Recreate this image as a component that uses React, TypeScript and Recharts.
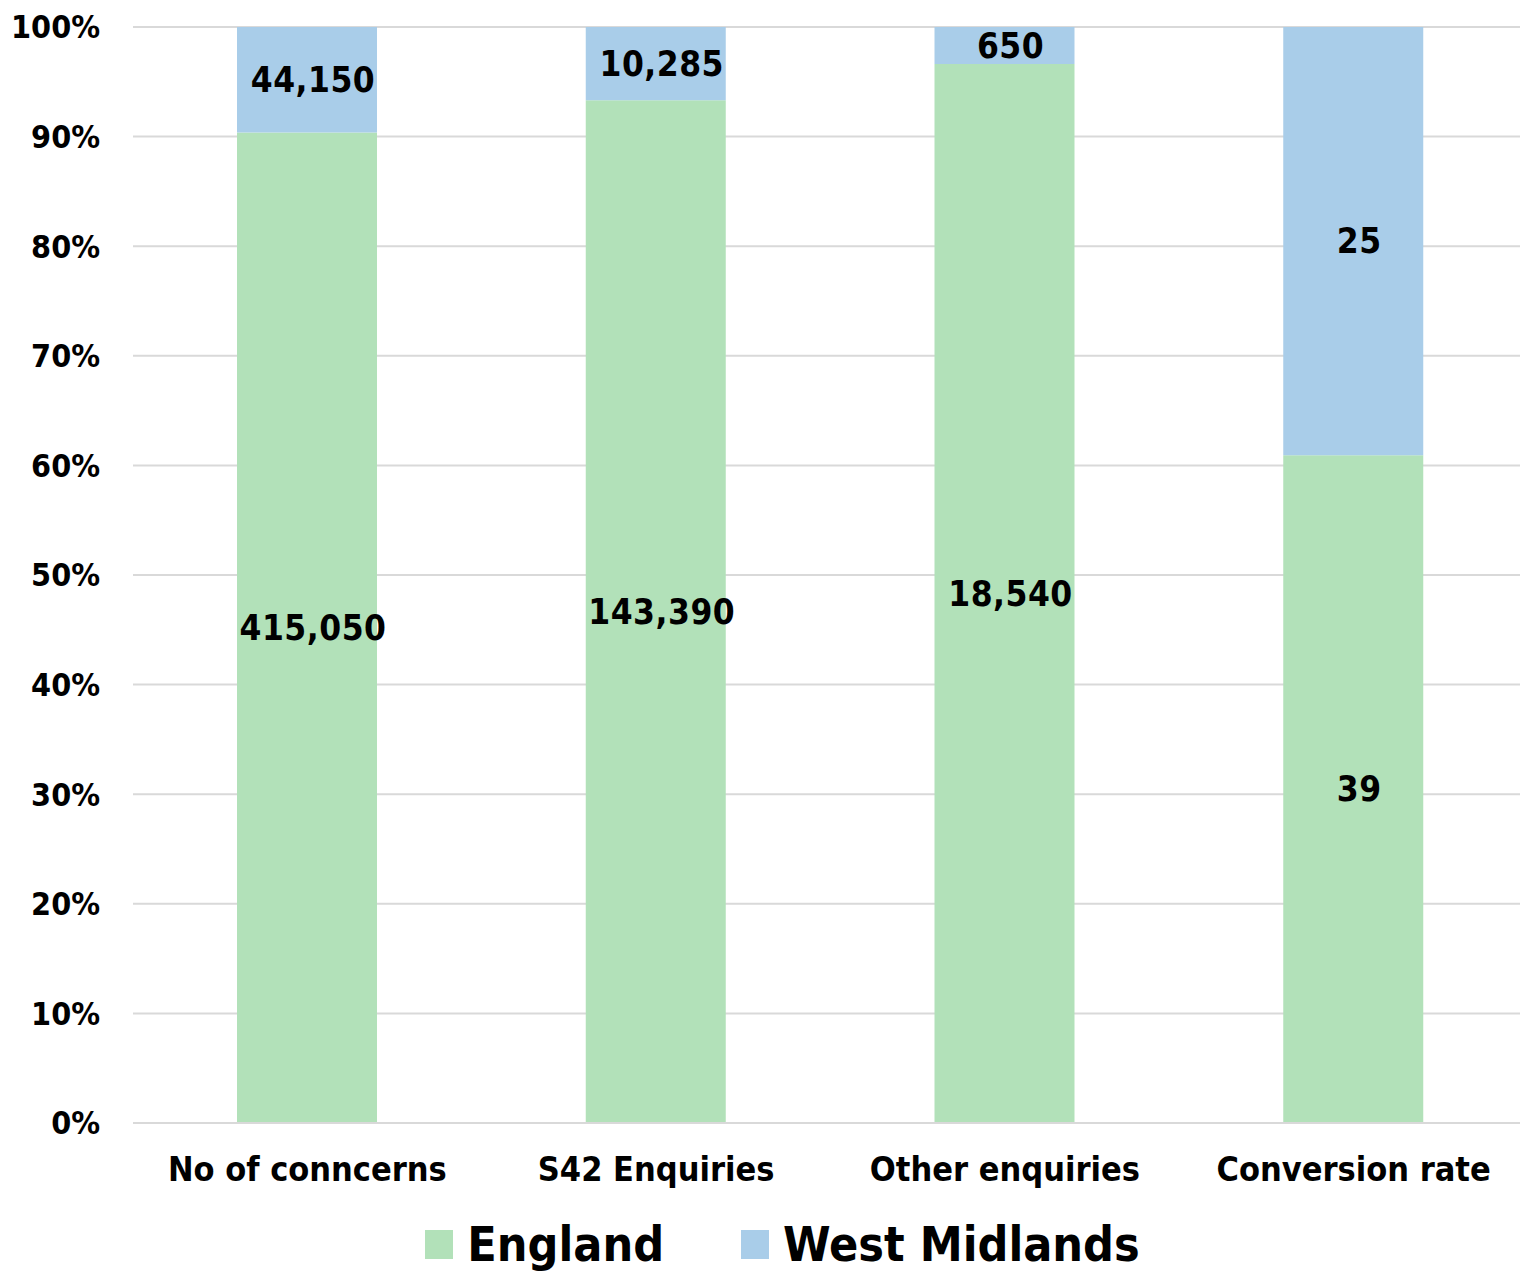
import { BarChart, Bar, XAxis, YAxis, CartesianGrid, Legend, LabelList } from 'recharts';

const categories = ['No of conncerns', 'S42 Enquiries', 'Other enquiries', 'Conversion rate'];
const england = [415050, 143390, 18540, 39];
const westMidlands = [44150, 10285, 650, 25];
const yTicks = [0, 0.1, 0.2, 0.3, 0.4, 0.5, 0.6, 0.7, 0.8, 0.9, 1];

const GREEN = '#b2e1b9';
const BLUE = '#a9cde9';
const FONT = '"DejaVu Sans Condensed", "DejaVu Sans", sans-serif';

const data = categories.map((name, i) => ({
  name,
  England: england[i],
  'West Midlands': westMidlands[i],
}));

const fmt = (v: any) => Number(v).toLocaleString('en-US');

const labelStyle = { fill: '#000', fontSize: 35, fontWeight: 'bold', fontFamily: FONT, letterSpacing: 0.5 };

// Legend drawn by hand so the squares and big text sit where we want them
const SeriesLegend = () => (
  <div
    style={{
      height: 56,
      display: 'flex',
      justifyContent: 'center',
      alignItems: 'center',
      paddingLeft: 37,
      fontFamily: FONT,
      fontWeight: 'bold',
      fontSize: 48,
      color: '#000',
    }}
  >
    {[
      { label: 'England', color: GREEN },
      { label: 'West Midlands', color: BLUE },
    ].map((item, i) => (
      <div key={item.label} style={{ display: 'flex', alignItems: 'center', marginLeft: i ? 77 : 0 }}>
        <span style={{ width: 28, height: 29, background: item.color, marginRight: 14, display: 'inline-block' }} />
        <span style={{ lineHeight: '56px' }}>{item.label}</span>
      </div>
    ))}
  </div>
);

const App = () => {
  return (
    <div style={{ position: 'absolute', left: 0, top: 0, width: 1520, height: 1272, overflow: 'hidden', background: '#fff' }}>
      <BarChart
        width={1528}
        height={1272}
        data={data}
        stackOffset="expand"
        margin={{ top: 27, right: 0, bottom: 0, left: 0 }}
      >
        <CartesianGrid vertical={false} stroke="#d9d9d9" strokeWidth={2} />
        <XAxis
          dataKey="name"
          height={93}
          tickLine={false}
          tickMargin={28}
          axisLine={{ stroke: '#d9d9d9', strokeWidth: 2 }}
          tick={{ fill: '#000', fontSize: 34, fontWeight: 'bold', fontFamily: FONT }}
          interval={0}
        />
        <YAxis
          width={133}
          domain={[0, 1]}
          ticks={yTicks}
          tickFormatter={(v: number) => `${Math.round(v * 100)}%`}
          axisLine={false}
          tickLine={false}
          tickMargin={27}
          tick={{ fill: '#000', fontSize: 32, fontWeight: 'bold', fontFamily: FONT }}
        />
        <Legend verticalAlign="bottom" content={() => <SeriesLegend />} />
        <Bar dataKey="England" stackId="a" fill={GREEN} barSize={140} isAnimationActive={false}>
          <LabelList dataKey="England" position="center" formatter={fmt} dx={6} style={labelStyle} />
        </Bar>
        <Bar dataKey="West Midlands" stackId="a" fill={BLUE} barSize={140} isAnimationActive={false}>
          <LabelList dataKey="West Midlands" position="center" formatter={fmt} dx={6} style={labelStyle} />
        </Bar>
      </BarChart>
    </div>
  );
};

export default App;
